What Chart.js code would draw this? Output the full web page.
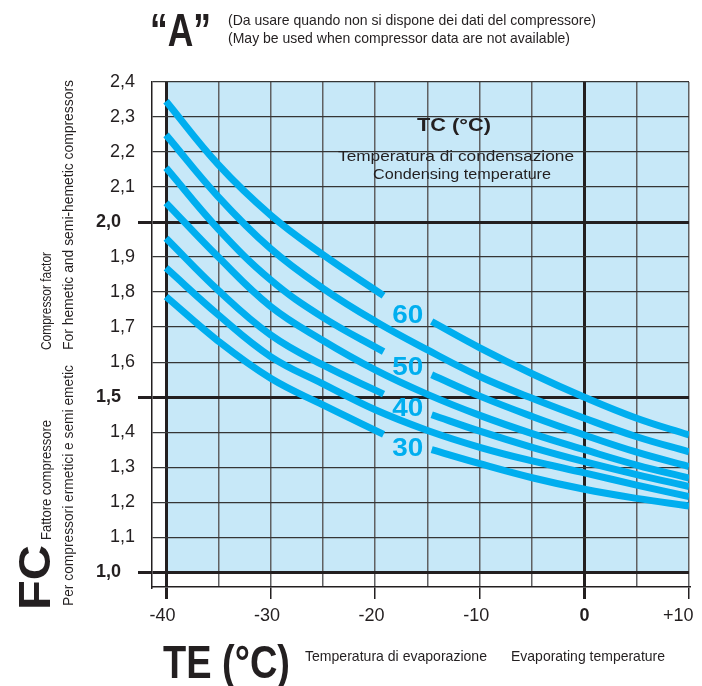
<!DOCTYPE html>
<html>
<head>
<meta charset="utf-8">
<script src="https://cdn.jsdelivr.net/npm/chart.js@4.4.1/dist/chart.umd.min.js"></script>
<style>
  html, body { margin: 0; padding: 0; background: #fff; }
</style>
</head>
<body>
<canvas id="fcChart" width="702" height="686"></canvas>
<script>
// asse X: temperatura di evaporazione TE (°C)
const xTickValues = [-40, -35, -30, -25, -20, -15, -10, -5, 0, 5, 10];
const xTickLabels = ['-40', '', '-30', '', '-20', '', '-10', '', '0', '', '+10'];
// asse Y: fattore compressore FC
const yTickValues = [1.0, 1.1, 1.2, 1.3, 1.4, 1.5, 1.6, 1.7, 1.8, 1.9, 2.0, 2.1, 2.2, 2.3, 2.4];
const yTickLabels = ['1,0', '1,1', '1,2', '1,3', '1,4', '1,5', '1,6', '1,7', '1,8', '1,9', '2,0', '2,1', '2,2', '2,3', '2,4'];

// curve continue (TC 55, 45, 35)
const teFull = [-40, -35, -30, -25, -20, -15, -10, -5, 0, 5, 10];
const fc55 = [2.249, 2.072, 1.924, 1.811, 1.717, 1.635, 1.559, 1.497, 1.44, 1.387, 1.344];
const fc45 = [2.055, 1.900, 1.759, 1.662, 1.578, 1.508, 1.448, 1.396, 1.350, 1.306, 1.269];
const fc35 = [1.869, 1.735, 1.616, 1.538, 1.464, 1.405, 1.357, 1.318, 1.284, 1.249, 1.216];

// curve interrotte dove c'e' l'etichetta (TC 60, 50, 40, 30)
const teCut = [-40, -35, -30, -25, -19.2, -17, -14.6, -10, -5, 0, 5, 10];
const fc60 = [2.345, 2.164, 2.020, 1.907, 1.790, null, 1.716, 1.641, 1.567, 1.500, 1.440, 1.392];
const fc50 = [2.155, 1.980, 1.835, 1.728, 1.630, null, 1.564, 1.503, 1.445, 1.392, 1.343, 1.302];
const fc40 = [1.954, 1.805, 1.678, 1.592, 1.509, null, 1.450, 1.403, 1.357, 1.316, 1.279, 1.245];
const fc30 = [1.787, 1.660, 1.554, 1.478, 1.394, null, 1.350, 1.310, 1.270, 1.237, 1.211, 1.189];

const tcLabels = ['60', '50', '40', '30'];

const INK = '#231f20';
const CYAN = '#00aeef';
const FONT = "'Liberation Sans', Arial, sans-serif";

function toPoints(xs, ys) {
    return xs.map((x, i) => ({ x: x, y: ys[i] }));
}

function curve(xs, ys) {
    return {
        data: toPoints(xs, ys),
        borderColor: CYAN,
        borderWidth: 7,
        borderCapStyle: 'butt',
        pointRadius: 0,
        spanGaps: false,
        tension: 0.4,
        fill: false
    };
}

// testo stretto alla larghezza voluta (il font originale e' condensato)
function fitText(ctx, text, x, y, width, font, align) {
    ctx.save();
    ctx.font = font;
    const w = ctx.measureText(text).width;
    ctx.translate(x, y);
    ctx.scale(width / w, 1);
    ctx.textAlign = align || 'left';
    ctx.textBaseline = 'alphabetic';
    ctx.fillText(text, 0, 0);
    ctx.restore();
}

function fitTextUp(ctx, text, x, y, length, font) {
    ctx.save();
    ctx.translate(x, y);
    ctx.rotate(-Math.PI / 2);
    fitText(ctx, text, 0, 0, length, font, 'left');
    ctx.restore();
}

const decor = {
    id: 'decor',
    beforeDraw(chart) {
        const { ctx, scales: { x, y } } = chart;
        const x0 = x.getPixelForValue(-40), x1 = x.getPixelForValue(10);
        const y0 = y.getPixelForValue(2.4), y1 = y.getPixelForValue(1.0);
        ctx.save();
        ctx.fillStyle = '#c7e8f8';
        ctx.fillRect(x0, y0, x1 - x0, y1 - y0);
        ctx.restore();
    },
    afterDatasetsDraw(chart) {
        const { ctx, scales: { x, y } } = chart;
        ctx.save();
        ctx.fillStyle = CYAN;
        const pos = [1.738, 1.589, 1.471, 1.359];
        tcLabels.forEach((t, i) => {
            const px = x.getPixelForValue(-16.9);
            const py = y.getPixelForValue(pos[i]);
            fitText(ctx, t, px, py + 9, 31, 'bold 25px ' + FONT, 'center');
        });
        ctx.fillStyle = INK;
        fitText(ctx, 'TC (°C)', 454, 131, 74, 'bold 19px ' + FONT, 'center');
        fitText(ctx, 'Temperatura di condensazione', 456, 161, 236, '15px ' + FONT, 'center');
        fitText(ctx, 'Condensing temperature', 462, 179, 178, '15px ' + FONT, 'center');
        ctx.restore();
    },
    afterDraw(chart) {
        const ctx = chart.ctx;
        ctx.save();
        ctx.fillStyle = INK;
        // intestazione
        fitText(ctx, '\u201cA\u201d', 150, 46, 61, 'bold 46px ' + FONT);
        fitText(ctx, '(Da usare quando non si dispone dei dati del compressore)', 228, 25, 368, '15px ' + FONT);
        fitText(ctx, '(May be used when compressor data are not available)', 228, 43, 342, '15px ' + FONT);
        // titolo asse Y
        fitTextUp(ctx, 'FC', 50, 610, 65, 'bold 44px ' + FONT);
        fitTextUp(ctx, 'Fattore compressore', 51, 540, 120, '15px ' + FONT);
        fitTextUp(ctx, 'Per compressori ermetici e semi emetic', 73, 606, 241, '15px ' + FONT);
        fitTextUp(ctx, 'Compressor factor', 51, 350, 98, '15px ' + FONT);
        fitTextUp(ctx, 'For hemetic and semi-hemetic compressors', 73, 350, 270, '15px ' + FONT);
        // titolo asse X
        fitText(ctx, 'TE (°C)', 163, 678, 127, 'bold 46px ' + FONT);
        fitText(ctx, 'Temperatura di evaporazione', 305, 661, 182, '15px ' + FONT);
        fitText(ctx, 'Evaporating temperature', 511, 661, 154, '15px ' + FONT);
        ctx.restore();
    }
};

const isMajorX = v => v === -40 || v === 0;
const isTenX = v => v % 10 === 0;
const isMajorY = v => v === 1.0 || v === 1.5 || v === 2.0;

const ctx = document.getElementById('fcChart').getContext('2d');
new Chart(ctx, {
    type: 'line',
    data: {
        datasets: [
            curve(teCut, fc60),
            curve(teFull, fc55),
            curve(teCut, fc50),
            curve(teFull, fc45),
            curve(teCut, fc40),
            curve(teFull, fc35),
            curve(teCut, fc30)
        ]
    },
    options: {
        responsive: false,
        animation: false,
        devicePixelRatio: 1,
        layout: { padding: { left: 0, right: 13, top: 82, bottom: 0 } },
        plugins: {
            legend: { display: false },
            tooltip: { enabled: false }
        },
        scales: {
            x: {
                type: 'linear',
                min: -41.34,
                max: 10,
                afterBuildTicks: s => { s.ticks = xTickValues.map(v => ({ value: v })); },
                afterFit: s => { s.height = 99; s.paddingLeft = 0; s.paddingRight = 0; },
                ticks: {
                    autoSkip: false,
                    maxRotation: 0,
                    padding: 6,
                    color: INK,
                    font: c => ({ family: FONT, size: 18, weight: c.tick && c.tick.value === 0 ? 'bold' : 'normal' }),
                    callback: v => {
                        const lab = xTickLabels[xTickValues.indexOf(v)];
                        // sposta un po' a sinistra le etichette come nell'originale
                        if (v === 10) return lab + '\u2003\u2009';
                        if (v < 0 && lab) return lab + '\u2009\u2009';
                        return lab;
                    }
                },
                grid: {
                    color: c => isMajorX(c.tick.value) ? INK : '#606062',
                    lineWidth: c => isMajorX(c.tick.value) ? 3 : 1.5,
                    tickLength: 12,
                    tickColor: c => isTenX(c.tick.value) ? INK : 'rgba(0,0,0,0)',
                    tickWidth: c => isMajorX(c.tick.value) ? 3 : 1.5
                },
                border: { display: true, color: INK, width: 1.5 }
            },
            y: {
                type: 'linear',
                min: 0.958,
                max: 2.4,
                afterBuildTicks: s => { s.ticks = yTickValues.map(v => ({ value: v })); },
                afterFit: s => { s.width = 152; },
                ticks: {
                    autoSkip: false,
                    padding: 3,
                    color: INK,
                    font: c => ({ family: FONT, size: 18, weight: c.tick && isMajorY(c.tick.value) ? 'bold' : 'normal' }),
                    callback: v => {
                        const lab = yTickLabels[yTickValues.indexOf(v)];
                        return isMajorY(v) ? lab + '\u2002 ' : lab;
                    }
                },
                grid: {
                    color: c => isMajorY(c.tick.value) ? INK : '#353535',
                    lineWidth: c => isMajorY(c.tick.value) ? 3 : 1.3,
                    tickLength: 14,
                    tickColor: c => isMajorY(c.tick.value) ? INK : 'rgba(0,0,0,0)',
                    tickWidth: 3
                },
                border: { display: true, color: INK, width: 1.5 }
            }
        }
    },
    plugins: [decor]
});
</script>
</body>
</html>
